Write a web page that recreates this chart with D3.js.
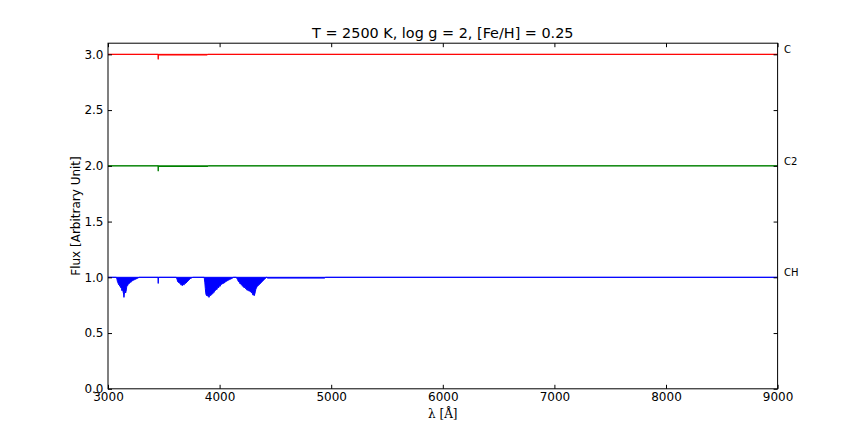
<!DOCTYPE html>
<html>
<head>
<meta charset="utf-8">
<script src="https://cdn.jsdelivr.net/npm/d3@7"></script>
<style>
  html, body { margin: 0; padding: 0; background: #fff; }
  svg { display: block; font-family: "DejaVu Sans", sans-serif; }
</style>
</head>
<body>
<svg id="chart" width="864" height="432"></svg>
<script>
// ---------------- data ----------------
const titleText = "T = 2500 K, log g = 2, [Fe/H] = 0.25";
const xLabelText = "λ [Å]";
const yLabelText = "Flux [Arbitrary Unit]";
const xDomain = [3000, 9000];
const yDomain = [0, 3.1];
const xTicks = [3000, 4000, 5000, 6000, 7000, 8000, 9000];
const yTicks = [0.0, 0.5, 1.0, 1.5, 2.0, 2.5, 3.0];
const yTickLabels = ["0.0", "0.5", "1.0", "1.5", "2.0", "2.5", "3.0"];

const seriesNames = ["C", "C2", "CH"];
const seriesLevels = [3.0, 2.0, 1.0];
const seriesColors = ["#ff0000", "#008000", "#0000ff"];

// C (offset to 3.0)
const cWave = [3000, 3448, 3450, 3452, 3455, 3890, 3895, 9000];
const cFlux = [3.0, 3.0, 2.955, 3.0, 2.994, 2.994, 3.0, 3.0];

// C2 (offset to 2.0)
const c2Wave = [3000, 3448, 3450, 3452, 3455, 3895, 3900, 9000];
const c2Flux = [2.0, 2.0, 1.952, 2.0, 1.994, 1.994, 2.0, 2.0];

// CH (lower envelope of absorption)
const chWave = [3000, 3075, 3080, 3085, 3090, 3095, 3100, 3105, 3110, 3115, 3120, 3125, 3130, 3135, 3140, 3143, 3146, 3150, 3155, 3158, 3162, 3166, 3170,
  3175, 3180, 3185, 3190, 3195, 3200, 3210, 3220, 3230, 3240, 3250, 3260, 3280,
  3448, 3450, 3452,
  3612, 3618, 3625, 3630, 3640, 3650, 3655, 3660, 3665, 3670, 3675, 3680, 3685, 3690, 3700, 3710, 3720, 3730, 3740, 3760,
  3862, 3868, 3872, 3876, 3880, 3885, 3890, 3895, 3900, 3905, 3910, 3915, 3920, 3925, 3930, 3935, 3940, 3945, 3950, 3955,
  3960, 3965, 3970, 3975, 3980, 3985, 3990, 3995, 4000, 4005, 4010, 4020, 4030, 4040, 4050, 4060, 4070, 4080, 4090, 4100, 4110, 4125,
  4150, 4160, 4170, 4180, 4185, 4190, 4195, 4200, 4205, 4210, 4215, 4220, 4225, 4230, 4235, 4240, 4245, 4250, 4255, 4260,
  4265, 4270, 4275, 4280, 4285, 4290, 4295, 4300, 4305, 4310, 4315, 4320, 4325, 4330, 4335, 4340, 4350, 4360, 4370, 4380,
  4390, 4400, 4410, 4420,
  4430, 4940, 4950, 9000];
const chFlux = [1.0, 1.0, 0.985, 0.96, 0.95, 0.935, 0.94, 0.92, 0.93, 0.905, 0.90, 0.88, 0.895, 0.87, 0.85, 0.82, 0.85, 0.87, 0.885, 0.86, 0.875, 0.905, 0.92,
  0.925, 0.935, 0.94, 0.945, 0.95, 0.955, 0.96, 0.97, 0.975, 0.98, 0.985, 0.99, 1.0,
  1.0, 0.945, 1.0,
  1.0, 0.985, 0.96, 0.955, 0.95, 0.94, 0.93, 0.935, 0.925, 0.93, 0.935, 0.93, 0.94, 0.945, 0.95, 0.96, 0.97, 0.98, 0.99, 1.0,
  1.0, 0.95, 0.90, 0.86, 0.84, 0.835, 0.845, 0.83, 0.84, 0.82, 0.835, 0.845, 0.835, 0.85, 0.845, 0.86, 0.855, 0.87, 0.865, 0.875,
  0.88, 0.885, 0.895, 0.89, 0.90, 0.91, 0.905, 0.915, 0.925, 0.92, 0.93, 0.94, 0.945, 0.95, 0.955, 0.965, 0.97, 0.975, 0.98, 0.985, 0.99, 1.0,
  1.0, 0.98, 0.96, 0.95, 0.94, 0.945, 0.93, 0.935, 0.92, 0.925, 0.91, 0.915, 0.905, 0.91, 0.895, 0.90, 0.885, 0.895, 0.88, 0.89,
  0.875, 0.885, 0.87, 0.88, 0.86, 0.87, 0.85, 0.84, 0.855, 0.835, 0.85, 0.87, 0.895, 0.905, 0.915, 0.92, 0.93, 0.94, 0.95, 0.96,
  0.97, 0.98, 0.99, 1.0,
  0.993, 0.993, 1.0, 1.0];

const seriesWaves = [cWave, c2Wave, chWave];
const seriesFluxes = [cFlux, c2Flux, chFlux];

// ---------------- layout ----------------
const mLeft = 108, mRight = 777.6, mTop = 43.2, mBottom = 388.8;

const svg = d3.select("#chart");
const x = d3.scaleLinear().domain(xDomain).range([mLeft, mRight]);
const y = d3.scaleLinear().domain(yDomain).range([mBottom, mTop]);

// series
seriesNames.forEach((name, i) => {
  const pts = seriesWaves[i].map((w, k) => [w, seriesFluxes[i][k]]);
  const level = seriesLevels[i];
  const col = seriesColors[i];
  const area = d3.area().x(d => x(d[0])).y0(y(level)).y1(d => y(d[1]));
  svg.append("path").attr("d", area(pts)).attr("fill", col).attr("stroke", "none");
  const line = d3.line().x(d => x(d[0])).y(d => y(d[1]));
  svg.append("path").attr("d", line(pts)).attr("fill", "none").attr("stroke", col).attr("stroke-width", 1);
  svg.append("line")
    .attr("x1", x(xDomain[0])).attr("x2", x(xDomain[1]))
    .attr("y1", y(level)).attr("y2", y(level))
    .attr("stroke", col).attr("stroke-width", 1);
  svg.append("text")
    .attr("x", mRight + 6.5).attr("y", y(level) - 1)
    .attr("font-size", 10).attr("fill", "#000")
    .text(name);
});

// axes (classic inward ticks on all sides)
const tickLen = 4;
const xAxisB = d3.axisBottom(x).tickValues(xTicks).tickSize(-tickLen).tickPadding(3.5).tickFormat(d3.format("d"));
const xAxisT = d3.axisTop(x).tickValues(xTicks).tickSize(-tickLen).tickFormat("");
const yAxisL = d3.axisLeft(y).tickValues(yTicks).tickSize(-tickLen).tickPadding(4.5).tickFormat((d, i) => yTickLabels[i]);
const yAxisR = d3.axisRight(y).tickValues(yTicks).tickSize(-tickLen).tickFormat("");

function styleAxis(g) {
  g.select(".domain").remove();
  g.selectAll(".tick line").attr("stroke", "#000").attr("stroke-width", 1);
  g.selectAll(".tick text").attr("fill", "#000").attr("font-size", 12).attr("font-family", "DejaVu Sans, sans-serif");
}
svg.append("g").attr("transform", `translate(0,${mBottom})`).call(xAxisB).call(styleAxis);
svg.append("g").attr("transform", `translate(0,${mTop})`).call(xAxisT).call(styleAxis);
svg.append("g").attr("transform", `translate(${mLeft},0)`).call(yAxisL).call(styleAxis);
svg.append("g").attr("transform", `translate(${mRight},0)`).call(yAxisR).call(styleAxis);

// frame
svg.append("rect")
  .attr("x", mLeft).attr("y", mTop)
  .attr("width", mRight - mLeft).attr("height", mBottom - mTop)
  .attr("fill", "none").attr("stroke", "#000").attr("stroke-width", 1);

// title & labels
svg.append("text")
  .attr("x", (mLeft + mRight) / 2).attr("y", mTop - 5.5)
  .attr("text-anchor", "middle").attr("font-size", 14.4).attr("fill", "#000")
  .text(titleText);
svg.append("text")
  .attr("x", (mLeft + mRight) / 2).attr("y", 418)
  .attr("text-anchor", "middle").attr("font-size", 12).attr("fill", "#000")
  .attr("font-family", "DejaVu Serif, serif")
  .text(xLabelText);
svg.append("text")
  .attr("transform", `translate(79.5,${(mTop + mBottom) / 2}) rotate(-90)`)
  .attr("text-anchor", "middle").attr("font-size", 12).attr("fill", "#000")
  .text(yLabelText);
</script>
</body>
</html>
